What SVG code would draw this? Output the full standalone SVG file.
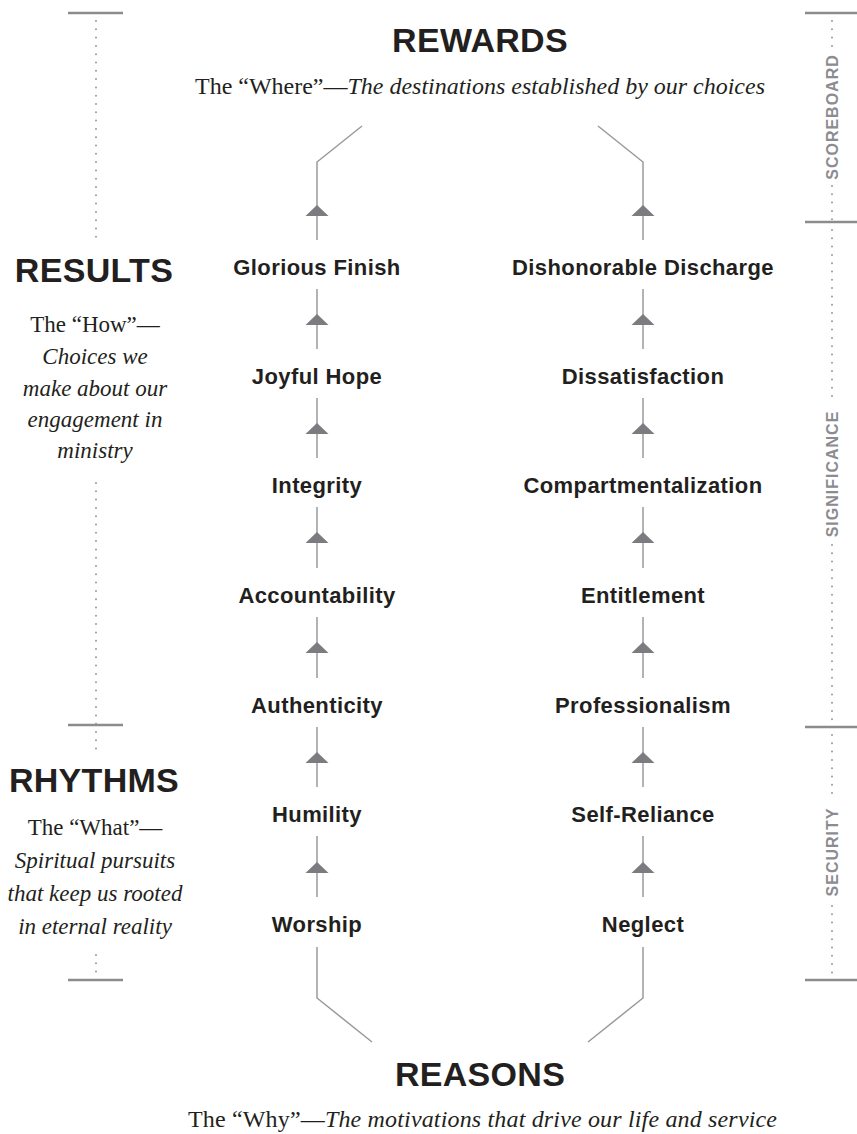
<svg xmlns="http://www.w3.org/2000/svg" xmlns:xlink="http://www.w3.org/1999/xlink" width="857" height="1134" viewBox="0 0 857 1134">
<style>
.h{font-family:"Liberation Sans",Arial,sans-serif;font-weight:700;font-size:34px;letter-spacing:0.3px;fill:#231f20;text-anchor:middle}
.n{font-family:"Liberation Sans",Arial,sans-serif;font-weight:700;font-size:22px;letter-spacing:0.4px;fill:#231f20;text-anchor:middle}
.s{font-family:"Liberation Serif","Times New Roman",serif;font-size:24px;fill:#231f20}
.sc{font-family:"Liberation Serif","Times New Roman",serif;font-size:23px;fill:#231f20;text-anchor:middle}
.i{font-style:italic}
.side{font-family:"Liberation Sans",Arial,sans-serif;font-weight:700;font-size:16px;letter-spacing:1px;fill:#8c8c90;text-anchor:middle}
.ln{fill:none;stroke:#9a9a9c;stroke-width:1.5}
.dot{fill:none;stroke:#9a9a9c;stroke-width:2;stroke-linecap:round;stroke-dasharray:0 8.3}
.tick{fill:none;stroke:#8c8c90;stroke-width:2.5}
</style>
<defs>
<path id="arr" d="M0 0 L-11.5 11 L11.5 11 Z" fill="#7c7c80"/>
</defs>
<rect width="857" height="1134" fill="#ffffff"/>

<g id="left-scale">
<line class="tick" x1="68" y1="13" x2="123" y2="13"/>
<line class="dot" x1="96" y1="21" x2="96" y2="238"/>
<line class="dot" x1="96" y1="483" x2="96" y2="752"/>
<line class="tick" x1="68" y1="725" x2="123" y2="725"/>
<line class="dot" x1="96" y1="955" x2="96" y2="975"/>
<line class="tick" x1="68" y1="980" x2="123" y2="980"/>
</g>

<g id="right-scale">
<line class="tick" x1="805" y1="13" x2="857" y2="13"/>
<line class="dot" x1="832" y1="21" x2="832" y2="50"/>
<text class="side" transform="translate(838,117) rotate(-90)">SCOREBOARD</text>
<line class="dot" x1="832" y1="186" x2="832" y2="222"/>
<line class="tick" x1="805" y1="222" x2="857" y2="222"/>
<line class="dot" x1="832" y1="230" x2="832" y2="404"/>
<text class="side" transform="translate(838,474) rotate(-90)">SIGNIFICANCE</text>
<line class="dot" x1="832" y1="545" x2="832" y2="727"/>
<line class="tick" x1="805" y1="727" x2="857" y2="727"/>
<line class="dot" x1="832" y1="735" x2="832" y2="800"/>
<text class="side" transform="translate(838,852) rotate(-90)">SECURITY</text>
<line class="dot" x1="832" y1="906" x2="832" y2="975"/>
<line class="tick" x1="805" y1="980" x2="857" y2="980"/>
</g>

<g id="rewards">
<text class="h" x="480" y="52">REWARDS</text>
<text class="s" x="195" y="94" textLength="570"><tspan>The “Where”—</tspan><tspan class="i">The destinations established by our choices</tspan></text>
</g>

<g id="results">
<text class="h" x="94" y="282">RESULTS</text>
<text class="sc" x="95" y="332">The “How”—</text>
<text class="sc i" x="95" y="364">Choices we</text>
<text class="sc i" x="95" y="396">make about our</text>
<text class="sc i" x="95" y="427">engagement in</text>
<text class="sc i" x="95" y="458">ministry</text>
</g>

<g id="rhythms">
<text class="h" x="94" y="792">RHYTHMS</text>
<text class="sc" x="95" y="835">The “What”—</text>
<text class="sc i" x="95" y="868">Spiritual pursuits</text>
<text class="sc i" x="95" y="901">that keep us rooted</text>
<text class="sc i" x="95" y="934">in eternal reality</text>
</g>

<g id="reasons">
<text class="h" x="480" y="1086">REASONS</text>
<text class="s" x="188" y="1127" textLength="589"><tspan>The “Why”—</tspan><tspan class="i">The motivations that drive our life and service</tspan></text>
</g>

<g id="node-glorious-finish"><text class="n" x="317" y="275">Glorious Finish</text></g>
<g id="node-joyful-hope"><text class="n" x="317" y="384">Joyful Hope</text></g>
<g id="node-integrity"><text class="n" x="317" y="493">Integrity</text></g>
<g id="node-accountability"><text class="n" x="317" y="603">Accountability</text></g>
<g id="node-authenticity"><text class="n" x="317" y="713">Authenticity</text></g>
<g id="node-humility"><text class="n" x="317" y="822">Humility</text></g>
<g id="node-worship"><text class="n" x="317" y="932">Worship</text></g>

<g id="node-dishonorable-discharge"><text class="n" x="643" y="275">Dishonorable Discharge</text></g>
<g id="node-dissatisfaction"><text class="n" x="643" y="384">Dissatisfaction</text></g>
<g id="node-compartmentalization"><text class="n" x="643" y="493">Compartmentalization</text></g>
<g id="node-entitlement"><text class="n" x="643" y="603">Entitlement</text></g>
<g id="node-professionalism"><text class="n" x="643" y="713">Professionalism</text></g>
<g id="node-self-reliance"><text class="n" x="643" y="822">Self-Reliance</text></g>
<g id="node-neglect"><text class="n" x="643" y="932">Neglect</text></g>

<g id="connectors">
<path class="ln" d="M317 240 V162 L362 126"/>
<path class="ln" d="M643 240 V162 L598 126"/>
<use xlink:href="#arr" x="317" y="205"/>
<use xlink:href="#arr" x="643" y="205"/>

<line class="ln" x1="317" y1="289" x2="317" y2="349"/><use xlink:href="#arr" x="317" y="314"/>
<line class="ln" x1="317" y1="398" x2="317" y2="458"/><use xlink:href="#arr" x="317" y="423"/>
<line class="ln" x1="317" y1="507" x2="317" y2="568"/><use xlink:href="#arr" x="317" y="532"/>
<line class="ln" x1="317" y1="617" x2="317" y2="678"/><use xlink:href="#arr" x="317" y="642"/>
<line class="ln" x1="317" y1="727" x2="317" y2="787"/><use xlink:href="#arr" x="317" y="752"/>
<line class="ln" x1="317" y1="836" x2="317" y2="897"/><use xlink:href="#arr" x="317" y="862"/>

<line class="ln" x1="643" y1="289" x2="643" y2="349"/><use xlink:href="#arr" x="643" y="314"/>
<line class="ln" x1="643" y1="398" x2="643" y2="458"/><use xlink:href="#arr" x="643" y="423"/>
<line class="ln" x1="643" y1="507" x2="643" y2="568"/><use xlink:href="#arr" x="643" y="532"/>
<line class="ln" x1="643" y1="617" x2="643" y2="678"/><use xlink:href="#arr" x="643" y="642"/>
<line class="ln" x1="643" y1="727" x2="643" y2="787"/><use xlink:href="#arr" x="643" y="752"/>
<line class="ln" x1="643" y1="836" x2="643" y2="897"/><use xlink:href="#arr" x="643" y="862"/>

<path class="ln" d="M317 947 V998 L372 1042"/>
<path class="ln" d="M643 947 V998 L588 1042"/>
</g>
</svg>
